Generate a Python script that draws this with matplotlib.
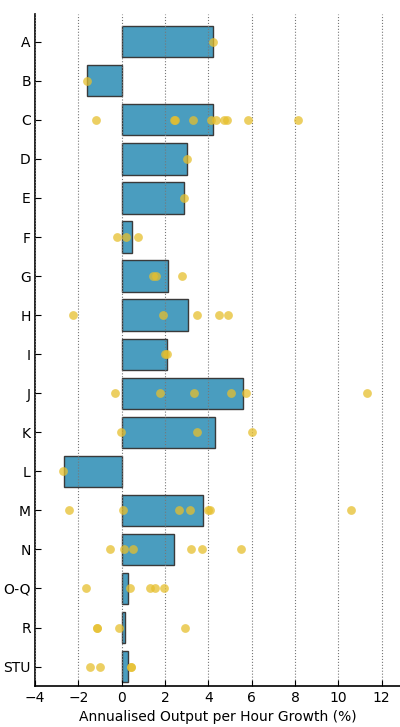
import numpy as np
import matplotlib
matplotlib.use("Agg")
import matplotlib.pyplot as plt

# industry sections and the aggregate growth for each
sections = ['A', 'B', 'C', 'D', 'E', 'F', 'G', 'H', 'I', 'J', 'K', 'L', 'M',
            'N', 'O-Q', 'R', 'STU']
growth = [4.23, -1.6, 4.23, 3.01, 2.89, 0.49, 2.12, 3.06, 2.09, 5.62, 4.30,
          -2.67, 3.75, 2.40, 0.28, 0.16, 0.28]

# sub-industry values plotted as dots on each row
sub_growth = [
    [4.23],
    [-1.6],
    [-1.2, 2.40, 2.48, 3.29, 4.12, 4.35, 4.73, 4.86, 5.84, 8.13],
    [3.01],
    [2.89],
    [-0.21, 0.22, 0.75],
    [1.47, 1.57, 2.78],
    [-2.26, 1.89, 3.49, 4.49, 4.92],
    [1.98, 2.09],
    [-0.32, 1.78, 3.32, 5.06, 5.73, 11.31],
    [-0.03, 3.46, 6.04],
    [-2.69],
    [-2.41, 0.05, 2.64, 3.17, 3.98, 4.06, 10.6],
    [-0.55, 0.09, 0.51, 3.21, 3.73, 5.53],
    [-1.63, 0.39, 1.29, 1.54, 1.97],
    [-1.13, -1.15, -0.11, 2.94],
    [-1.44, -0.98, 0.43, 0.45],
]

plt.rcParams['font.family'] = 'DejaVu Sans'

fig = plt.figure(figsize=(4.0, 7.27), dpi=100)
ax = fig.add_axes([0.0875, 0.0568, 0.9125, 0.9239])

pos = np.arange(len(sections))
ax.barh(pos, growth, height=0.8, color='#4a9dbf', edgecolor='#3a3a3a',
        linewidth=1.0, zorder=2)

for i, vals in enumerate(sub_growth):
    ax.scatter(vals, [i] * len(vals), s=40, color='#e6bf2e', alpha=0.75,
               linewidths=0, zorder=4)

ax.set_yticks(pos)
ax.set_yticklabels(sections, fontsize=10)
ax.set_ylim(16.49, -0.71)
ax.set_xlim(-4, 12.85)
ax.set_xticks(np.arange(-4, 13, 2))
ax.tick_params(axis='x', labelsize=10, direction='in', length=4, top=False)
ax.tick_params(axis='y', direction='in', length=4, right=False, pad=3)
ax.xaxis.grid(True, linestyle=':', color='#777777', linewidth=0.8, zorder=3)
ax.set_axisbelow(False)
ax.spines['top'].set_visible(False)
ax.spines['right'].set_visible(False)
ax.spines['left'].set_linewidth(1.2)
ax.spines['bottom'].set_linewidth(1.2)
ax.set_xlabel('Annualised Output per Hour Growth (%)', fontsize=10)

fig.savefig('out.png', dpi=100)
